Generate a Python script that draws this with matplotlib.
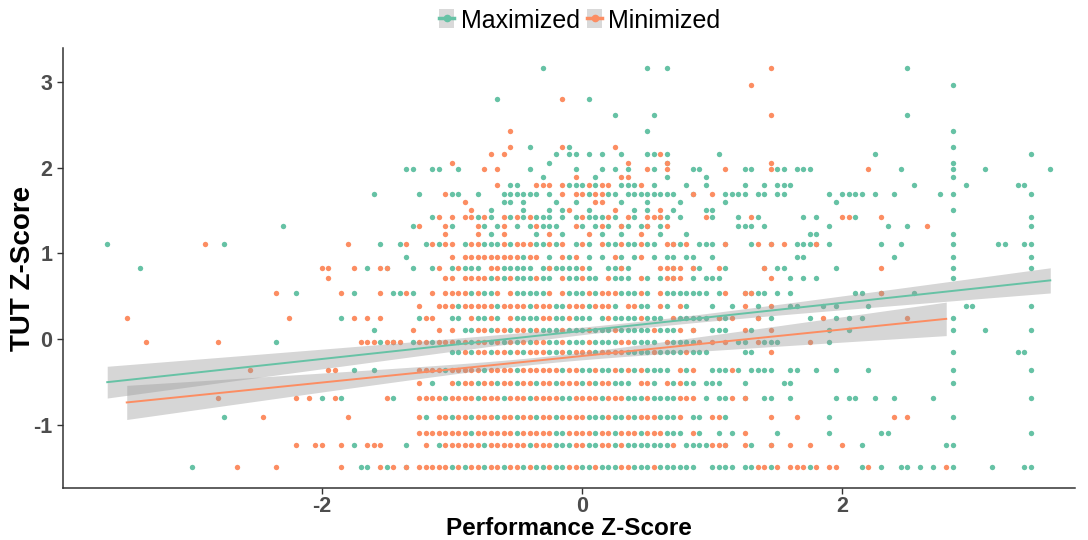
import numpy as np
import matplotlib.pyplot as plt
from matplotlib.lines import Line2D
from matplotlib.patches import Patch
from matplotlib.legend_handler import HandlerTuple

plt.rcParams['font.family'] = ['Liberation Sans', 'DejaVu Sans']
plt.rcParams['axes.unicode_minus'] = False

# Points, one row per TUT level.
# Each row is a strip of 0.05-wide cells of performance z-score starting at -3.75
# (g = Maximized, o = Minimized, b = both, . = empty).
grid_start = -3.75
grid_step = 0.05

tut_levels = [3.162, 2.964, 2.800, 2.614, 2.427, 2.240, 2.159, 2.054, 1.984, 1.890,
              1.797, 1.692, 1.599, 1.505, 1.424, 1.319, 1.225, 1.108, 0.957, 0.828,
              0.712, 0.537, 0.385, 0.245, 0.105, -0.035, -0.152, -0.362, -0.513, -0.688,
              -0.910, -1.097, -1.237, -1.494]

E = '..........'
point_rows = [
    f"{E} {E} {E} {E} {E} {E} .........g {E} .....g..g. {E} ....o..... {E} .....g.... {E} {E}",
    f"{E} {E} {E} {E} {E} {E} {E} {E} {E} {E} .o........ {E} {E} ..g....... {E}",
    f"{E} {E} {E} {E} {E} {E} ..g....... ..o...g... {E} {E} {E} {E} {E} {E} {E}",
    f"{E} {E} {E} {E} {E} {E} {E} {E} g.....g... {E} ....o..... {E} .....g.... {E} {E}",
    f"{E} {E} {E} {E} {E} {E} ....o..... {E} .....g.... {E} {E} {E} {E} ..g....... {E}",
    f"{E} {E} {E} {E} {E} {E} ....o..g.. ..og...... o......... {E} {E} {E} {E} ..g....... {E}",
    f"{E} {E} {E} {E} {E} {E} .o.o...... .g.gg.g.g. .g...ggog. ......g... {E} {E} g......... {E} ....g.....",
    f"{E} {E} {E} {E} {E} .....o.... {E} g......... ..o.....b. {E} ....o..... {E} {E} ..g....... {E}",
    f"{E} {E} {E} {E} ........gg ..gg..g... o.o....g.. ....g...g. g.g..og.o. ..gg...o.. gg..ogg.gg g........o ....g..... ..g....g.. .......g..",
    f"{E} {E} {E} {E} {E} {E} .........g ....o..g.. .oo.....g. ....g..... {E} {E} {E} ..g....... {E}",
    f"{E} {E} {E} {E} {E} {E} ..o.gg..oo o.ogggogoo .gggo.g... .g..g..... g..g.ggg.. {E} ......g... ....g..... ..gg......",
    f"{E} {E} {E} {E} ...g...... g...ogg..g ...gggggg. g.o.oogoog g.gggggggg ..b..o.ggg g.gg.gg... ...g.gggg. g..g...... g.g....... ....g.....",
    f"{E} {E} {E} {E} {E} .......o.. ...gg.g... .g..g..oo. .g...g.... g......g.. {E} ....g..... {E} {E} {E}",
    f"{E} {E} {E} {E} {E} ........o. .g....g... g.go..g... o..g.g.o.g ....gg.... {E} {E} {E} ..g....... {E}",
    f"{E} {E} {E} {E} {E} ..go.o.oog og.ogogogg g.g.gogggo g.og.oobg. g...og...g .og......g .g...oog.. .o........ {E} ....g.....",
    f"{E} {E} .........g {E} .........g o...og...o g.go.g.gog gg..og.gog .bg.gb.go. .........g gg.g...... ...g...... ..g..g..o. {E} ....g.....",
    f"{E} {E} {E} {E} {E} ....o....o .g.o....g. o.g...o.g. .g..o..g.. .g........ {E} gg........ {E} ..g....... {E}",
    f"..g....... .......o.. g......... .........o ....g..go. .gogoo.goo gggogooogg ogo.gog.og goggogg.ob go.ggg.b.. .go.b.o.gg gb.g...... .g..g..... ..g......g g..gg.....",
    f"{E} {E} {E} {E} ........g. .....o.ooo oooooogoo. g.ogo.g.g. og.go.g.gg .gg..g.... ........gg {E} ...g...... ..g....... ....g.....",
    f".......g.. {E} {E} .....oo... o.g.ob...g ..go.goggg .ooggggg.g bggggog..g gbg....oob o.bg..og.. ...b.gg... ....g..... .o........ ..g....... ....g.....",
    f"{E} {E} {E} ......o... {E} ....oo.ooo ogogogggog g.oggogg.o ggg.og.gob o.g.ggg... ....o..g.g .g........ {E} ..g....... {E}",
    f"{E} {E} ........o. .g......o. g...o.ggog ..o.oooogo ggo.oggggg o.ogggogoo ogggog.ogg ggggg.go.. bbgg.g.g.. .......gg. .b....g... {E} {E}",
    f"{E} {E} {E} {E} {E} o..ooogooo oogoooogoo oggooogooo g.oogg.og. og...g..g. o.g.o..gg. ..g.g....g {E} ....gg.... ....g.....",
    f".....o.... {E} {E} o.......g. o.o.o..... goo..gg.og gog.oggggo oggoggg.go ggggoggg.o ggggg.bgo. ..b.g..... g.o.g.g.g. .....o.... ..g....... {E}",
    f"{E} {E} {E} {E} ...g.....o ...o.o.ggo ogoogoogog ggogggoggg ogggggoggg o.b..ggg.. og..o..... ...g..g... {E} ..g....g.. ....g.....",
    f"........o. .........o ........g. {E} .ooogobo.g oogooogogo ogogogogoo ggogggoggg googggg.og gggo.o.o.g g.oggg.... o..g...... {E} {E} {E}",
    f"{E} {E} {E} {E} {E} .....ggogo ogoogogooo ggogooogoo ooggggoggg goggg..... gg..o..... {E} {E} ..g....... ..gg......",
    f"{E} {E} ....o..... ......oo.. g..g...... oooogooooo goooogoooo oogooggogg ogogogggg. ogo..gggog .gggg..gg. .g..g....g {E} ..g....... ....g.....",
    f"{E} {E} {E} {E} {E} o.g..ogoog oogoogoogo ogooogogoo ggg.oog.og ogg.ggg... g.....gg.. {E} {E} ..g....... {E}",
    f"{E} .........o {E} .o.o.g.og. .....og... oooogoooog ooogooogoo ooggoooogo oogggogggg ooo.g.ggo. b..gg..g.. ....g.gg.. g..g.....g {E} ....g.....",
    f"{E} {E} g.....o... .........o {E} og.oogoogo oogoogoogo ogoooogggo ggogoooggg o.gg.oog.. ....o...o. ...g...... ...o.o.... ..g....... {E}",
    f"{E} {E} {E} {E} {E} oooooooogo ooooogoooo oggoooogoo gooogooogg g.og..g.g. o....g.... ...g...... .gg....... {E} ....g.....",
    f"{E} {E} {E} .o..oo..o. g.ooo...g. .o.goooooo goooooogoo ogggooggoo gogggggggo .ggggoob.. og..b..o.. o....o..g. {E} .gg....... {E}",
    f"{E} .....g.... ..o.....o. ........o. .gg.ogo.b. ooooogogoo googoogogg oggooggogg googggoggg ggg..gggg. ggoogo.ooo go.oo...go .g..gg.g.g .og.....g. ...gg.....",
]

groups = ['Maximized', 'Minimized']
colors = {'Maximized': '#66C2A5', 'Minimized': '#FC8D62'}

# linear fits (geom_smooth, method = lm)
fit_intercept = {'Maximized': 0.095, 'Minimized': -0.198}
fit_slope = {'Maximized': 0.164, 'Minimized': 0.155}
ci_floor = {'Maximized': 0.04, 'Minimized': 0.04}
ci_growth = {'Maximized': 0.0445, 'Minimized': 0.0614}
ci_centre = {'Maximized': 0.42, 'Minimized': -0.32}

pts = {g: ([], []) for g in groups}
for y, row in zip(tut_levels, point_rows):
    cells = row.replace(' ', '')
    for i, c in enumerate(cells):
        x = grid_start + grid_step * i
        if c in 'gb':
            pts['Maximized'][0].append(x)
            pts['Maximized'][1].append(y)
        if c in 'ob':
            pts['Minimized'][0].append(x)
            pts['Minimized'][1].append(y)

fig = plt.figure(figsize=(10.88, 5.4), dpi=100)
ax = fig.add_axes([63 / 1088, 52 / 540, 1012 / 1088, 440 / 540])

for g in groups:
    ax.scatter(pts[g][0], pts[g][1], s=15, color=colors[g], linewidths=0, zorder=2)

for g in groups:
    xs = np.linspace(min(pts[g][0]), max(pts[g][0]), 100)
    yfit = fit_intercept[g] + fit_slope[g] * xs
    hw = np.sqrt(ci_floor[g] ** 2 + (ci_growth[g] * (xs - ci_centre[g])) ** 2)
    ax.fill_between(xs, yfit - hw, yfit + hw, color='#999999', alpha=0.4, linewidth=0, zorder=3)
    ax.plot(xs, yfit, color=colors[g], lw=1.4, zorder=4)

ax.set_xlim(-3.99, 3.79)
ax.set_ylim(-1.74, 3.40)
ax.set_xticks([-2, 0, 2])
ax.set_yticks([-1, 0, 1, 2, 3])
for s in ['top', 'right']:
    ax.spines[s].set_visible(False)
for s in ['left', 'bottom']:
    ax.spines[s].set_color('#333333')
    ax.spines[s].set_linewidth(1.1)
ax.tick_params(length=4, width=1, color='#333333', labelcolor='#4D4D4D', labelsize=15.5)
ax.tick_params(axis='x', pad=2)
for lab in ax.get_xticklabels() + ax.get_yticklabels():
    lab.set_fontweight('bold')

ax.set_xlabel('Performance Z-Score', fontsize=17.5, fontweight='bold', labelpad=0)
ax.set_ylabel('TUT Z-Score', fontsize=20, fontweight='bold', labelpad=-2)

handles = [(Patch(facecolor='#D9D9D9', edgecolor='none'),
            Line2D([], [], color=colors[g], lw=2.5, marker='o', ms=4.5)) for g in groups]
fig.legend(handles, groups, handler_map={tuple: HandlerTuple(ndivide=1, pad=0)},
           loc='center', bbox_to_anchor=(0.533, 0.962), ncol=2, frameon=False,
           fontsize=18, handlelength=0.6, handleheight=0.8, columnspacing=0.3,
           handletextpad=0.25, borderpad=0)

fig.savefig('out.png', dpi=100)
